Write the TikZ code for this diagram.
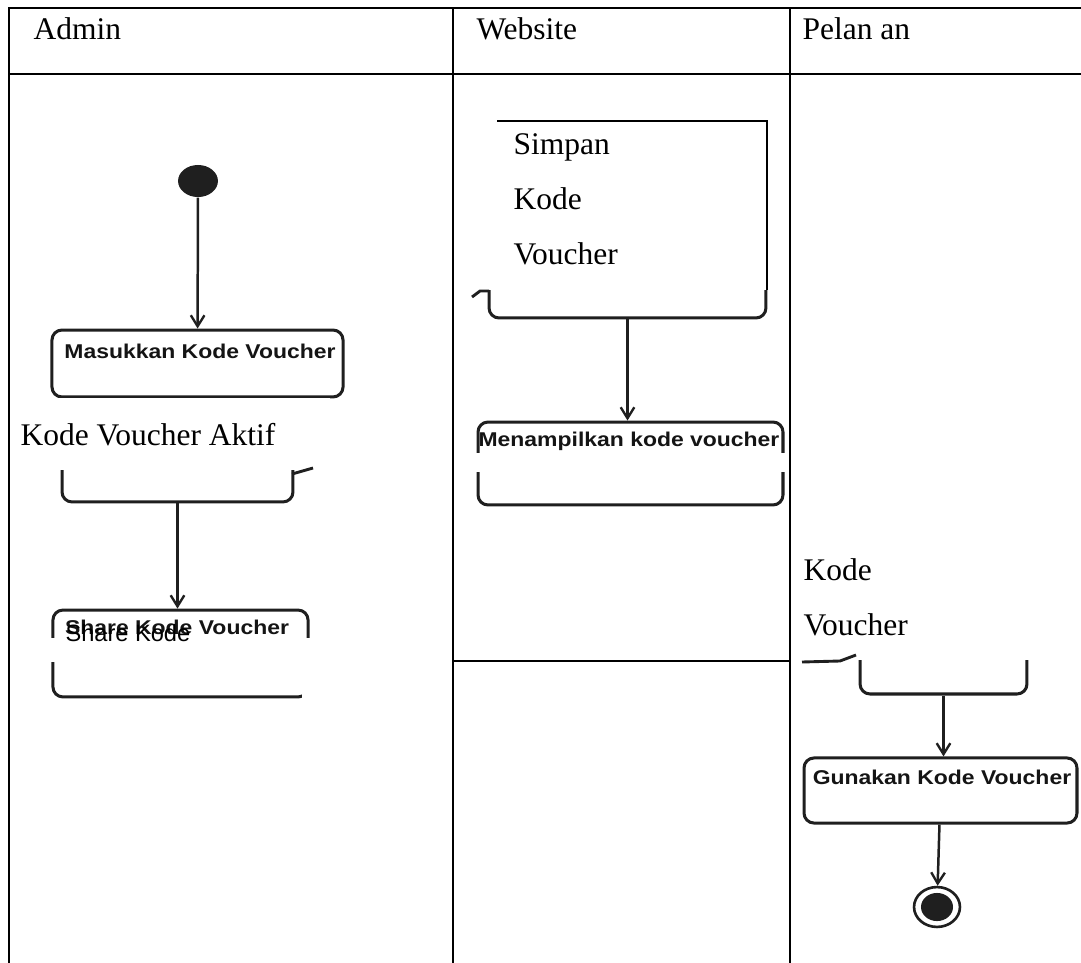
\documentclass[tikz,border=0pt]{standalone}
\usepackage{graphicx}
\usepackage{fontspec}
\setmainfont{Liberation Serif}
\newfontfamily\scanfont{Liberation Sans}
\usetikzlibrary{arrows.meta,shapes.geometric}

\begin{document}
\begin{tikzpicture}[x=0.381pt, y=-0.381pt,
  grid/.style={line width=0.6pt, black},
  thin/.style={line width=0.45pt, black},
  ink/.style={line width=1.1pt, black!88},
  act/.style={draw=black!88, line width=1.15pt, rounded corners=3.8pt, inner sep=0pt},
  flow/.style={line width=0.95pt, black!88,
    -{Straight Barb[length=4.2pt,width=5.2pt,line width=0.9pt]}},
  cell/.style={font=\fontsize{12}{14}\selectfont, anchor=base west, inner sep=0pt},
  actlabel/.style={font=\fontsize{7.6}{9}\scanfont\bfseries, anchor=base, inner sep=0pt, text=black!92},
  mask/.style={fill=white, draw=none},
]
\useasboundingbox (0,0) rectangle (1081,963);

% ---- swimlane table ----
\draw[grid] (1081,8) -- (9,8) -- (9,963);
\draw[grid] (9,74) -- (1081,74);
\draw[grid] (453,8) -- (453,963);
\draw[grid] (790,8) -- (790,963);
\draw[grid] (453,661) -- (790,661);

\node[cell] (hAdmin) at (33,39) {Admin};
\node[cell] (hWeb) at (476,39) {Website};
\node[cell] (hPel) at (802,39) {Pelan an};

% ---- Admin lane ----
\node[ellipse, fill=black!88, inner sep=0pt, minimum width=15.2pt, minimum height=12.2pt] (start) at (198,181) {};
\node[act, minimum width=110.9pt, minimum height=25.5pt] (masuk) at (197.5,363.5) {};
\node[actlabel] (masukT) at (200,358) {\scalebox{1.15}[1]{Masukkan Kode Voucher}};
\draw[flow] (start) -- (masuk);

\node[act, minimum width=88.0pt, minimum height=31.2pt] (kvabox) at (177.5,461) {};
\fill[mask] (12,398) rectangle (330,470);
\node[cell] (kvaT) at (20,445) {Kode Voucher Aktif};
\draw[ink] (292,474) -- (313,468);

\node[act, minimum width=97.2pt, minimum height=33.1pt] (share) at (180.5,653.5) {};
\node[actlabel] (shareT) at (177,634) {\scalebox{1.15}[1]{Share Kode Voucher}};
\fill[mask] (44,638) rectangle (316,662);
\fill[mask] (302,662) rectangle (318,704);
\node[cell, font=\fontsize{9}{11}\scanfont] (shareT2) at (65,641) {Share Kode};
\draw[flow] (kvabox.south) -- (kvabox.south |- share.north);

% ---- Website lane ----
\node[act, minimum width=105.5pt, minimum height=29.7pt] (simpanbox) at (627.5,279) {};
\fill[mask] (466,112) rectangle (767,290);
\draw[thin] (497,121) -- (767,121) -- (767,290);
\node[cell] (simpanT1) at (513,154) {Simpan};
\node[cell] (simpanT2) at (513,209) {Kode};
\node[cell] (simpanT3) at (513,264) {Voucher};
\draw[ink] (472,297) -- (480,291) -- (489,291);

\node[act, minimum width=116.2pt, minimum height=31.6pt] (tampil) at (630.5,463.5) {};
\node[actlabel] (tampilT) at (629,446) {\scalebox{1.15}[1]{Menampilkan kode voucher}};
\fill[mask] (472,453) rectangle (787,472);
\draw[flow] (simpanbox.south) -- (simpanbox.south |- tampil.north);

% ---- Pelanggan lane ----
\node[act, minimum width=63.6pt, minimum height=35.8pt] (pelbox) at (943.5,647) {};
\fill[mask] (795,540) rectangle (1075,660);
\node[cell] (pelT1) at (803,580) {Kode};
\node[cell] (pelT2) at (803,635) {Voucher};
\draw[ink] (802,662) -- (840,661) -- (856,655);

\node[act, minimum width=104.0pt, minimum height=24.8pt] (gunakan) at (940.5,790.5) {};
\node[actlabel] (gunakanT) at (942,784) {\scalebox{1.15}[1]{Gunakan Kode Voucher}};
\draw[flow] (pelbox.south) -- (pelbox.south |- gunakan.north);

\node[ellipse, draw=black!88, line width=1pt, fill=white, inner sep=0pt, minimum width=17.5pt, minimum height=15.2pt] (finish) at (937,907) {};
\node[ellipse, fill=black!88, inner sep=0pt, minimum width=12.2pt, minimum height=10.7pt] (finishDot) at (finish) {};
\draw[flow] (gunakan) -- (finish);
\end{tikzpicture}
\end{document}
